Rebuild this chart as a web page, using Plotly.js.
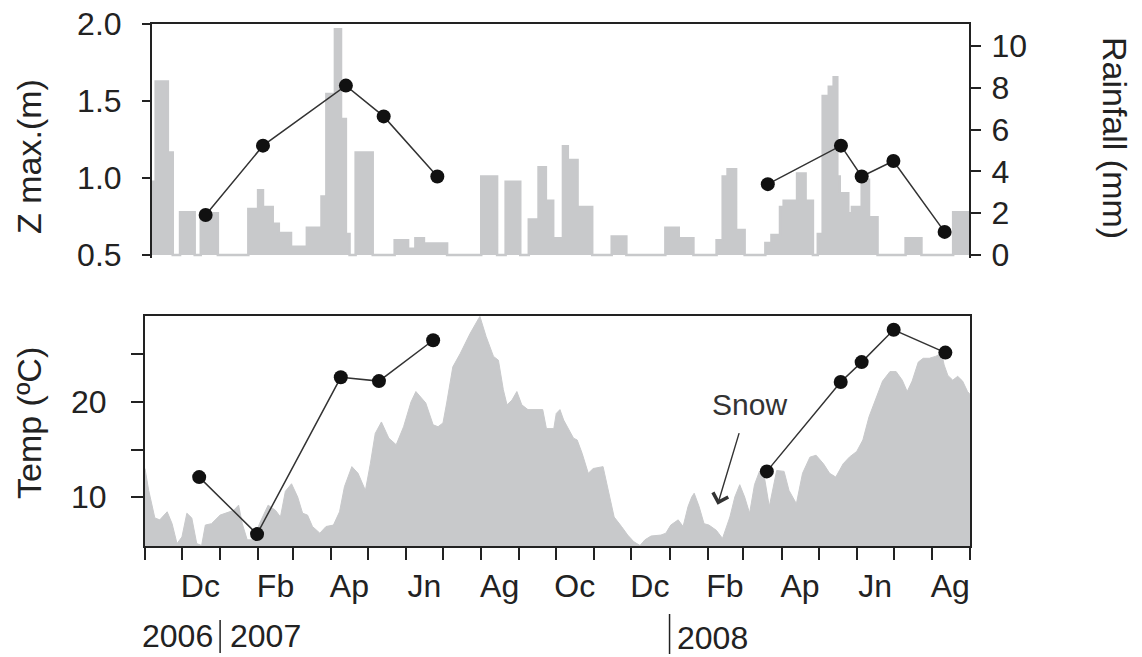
<!DOCTYPE html>
<html>
<head>
<meta charset="utf-8">
<script src="https://cdn.plot.ly/plotly-3.0.1.min.js"></script>
<style>html,body{margin:0;padding:0;background:#fff;}#chart{width:1142px;height:657px;}</style>
</head>
<body>
<div id="chart"></div>
<script>
// ---------- DATA ----------
// Rainfall (mm): step values, each holding from its date until the next date
var rainDates = ['2006-11-01','2006-11-04','2006-11-14','2006-11-18','2006-11-24','2006-12-06','2006-12-11','2006-12-25',
  '2007-01-19','2007-01-27','2007-01-31','2007-02-08','2007-02-13','2007-02-23','2007-03-08','2007-03-20','2007-03-24',
  '2007-03-31','2007-04-05','2007-04-09','2007-04-12','2007-04-17','2007-05-01','2007-05-19','2007-05-30','2007-06-05',
  '2007-06-12','2007-07-01','2007-07-29','2007-08-11','2007-08-18','2007-08-30','2007-09-06','2007-09-14','2007-09-20',
  '2007-09-26','2007-10-04','2007-10-08','2007-10-16','2007-10-28','2007-11-13','2007-11-25','2007-12-27','2008-01-07',
  '2008-01-19','2008-02-07','2008-02-12','2008-02-16','2008-02-23','2008-03-01','2008-03-18','2008-03-23','2008-03-30',
  '2008-04-02','2008-04-13','2008-04-20','2008-04-26','2008-04-30','2008-05-04','2008-05-09','2008-05-13','2008-05-16',
  '2008-05-18','2008-05-25','2008-05-28','2008-06-05','2008-06-11','2008-06-18','2008-07-11','2008-07-24','2008-08-19',
  '2008-09-01'];
var rainMm = [3.5,8.3,4.9,0,2.05,0,2.0,0,
  2.2,3.1,2.3,1.5,1.05,0.4,1.3,2.8,7.7,
  10.8,6.5,1.0,0,4.9,0,0.7,0.3,0.8,
  0.55,0,3.75,0,3.5,0,1.7,4.2,2.6,
  0.8,5.2,4.55,2.3,0,0.88,0,1.3,0.8,
  0,0.7,3.75,4.1,1.2,0,0.57,0.96,2.3,
  2.6,3.9,2.6,0,1.0,7.6,8.05,8.5,3.75,
  2.95,2.0,2.3,3.6,1.8,0,0.8,0,2.05,
  2.05];

// Z max (m) sampling campaigns
var zDates2007 = ['2006-12-15','2007-01-31','2007-04-09','2007-05-10','2007-06-23'];
var zMax2007   = [0.76, 1.21, 1.60, 1.40, 1.01];
var zDates2008 = ['2008-03-20','2008-05-19','2008-06-05','2008-07-01','2008-08-12'];
var zMax2008   = [0.96, 1.21, 1.01, 1.11, 0.65];

// Water temperature at sampling (ºC)
var tSample2007 = [12.1, 6.1, 22.6, 22.2, 26.5];
var tSample2008 = [12.7, 22.1, 24.2, 27.6, 25.2];

// Air temperature (ºC), continuous
var tempDates = ['2006-11-01','2006-11-04','2006-11-09','2006-11-13','2006-11-19','2006-11-23','2006-11-27','2006-12-01',
  '2006-12-05','2006-12-09','2006-12-13','2006-12-17','2006-12-20','2006-12-25','2007-01-01','2007-01-08','2007-01-12',
  '2007-01-16','2007-01-19','2007-01-23','2007-01-28','2007-02-02','2007-02-09','2007-02-15','2007-02-19','2007-02-23',
  '2007-02-28','2007-03-05','2007-03-09','2007-03-13','2007-03-17','2007-03-23','2007-03-28','2007-04-03','2007-04-08',
  '2007-04-12','2007-04-18','2007-04-23','2007-04-29','2007-05-03','2007-05-07','2007-05-12','2007-05-18','2007-05-24',
  '2007-05-30','2007-06-05','2007-06-09','2007-06-17','2007-06-23','2007-06-27','2007-07-01','2007-07-04','2007-07-09',
  '2007-07-15','2007-07-23','2007-07-30','2007-07-31','2007-08-05','2007-08-11','2007-08-15','2007-08-19','2007-08-22',
  '2007-08-26','2007-08-30','2007-09-03','2007-09-08','2007-09-14','2007-09-20','2007-09-23','2007-09-29','2007-10-01',
  '2007-10-04','2007-10-07','2007-10-11','2007-10-15','2007-10-18','2007-10-22','2007-10-27','2007-10-31','2007-11-08',
  '2007-11-12','2007-11-17','2007-11-23','2007-11-28','2007-12-03','2007-12-08','2007-12-12','2007-12-17','2007-12-25',
  '2007-12-29','2008-01-02','2008-01-08','2008-01-12','2008-01-16','2008-01-19','2008-01-21','2008-01-25','2008-01-29',
  '2008-02-02','2008-02-08','2008-02-13','2008-02-19','2008-02-23','2008-02-27','2008-03-02','2008-03-06','2008-03-10',
  '2008-03-14','2008-03-18','2008-03-22','2008-03-28','2008-04-03','2008-04-07','2008-04-13','2008-04-18','2008-04-24',
  '2008-04-29','2008-05-05','2008-05-10','2008-05-15','2008-05-21','2008-05-26','2008-06-01','2008-06-06','2008-06-11',
  '2008-06-17','2008-06-22','2008-06-28','2008-07-03','2008-07-08','2008-07-12','2008-07-16','2008-07-21','2008-07-25',
  '2008-07-30','2008-08-04','2008-08-09','2008-08-11','2008-08-14','2008-08-18','2008-08-22','2008-08-26','2008-08-30',
  '2008-09-01'];
var tempC = [13.0,10.7,7.8,7.6,8.45,7.2,5.1,5.8,
  8.3,7.8,5.1,4.9,7.05,7.2,8.1,8.45,8.6,
  9.15,7.2,5.5,5.5,7.2,9.15,8.6,7.9,10.6,
  11.4,10.0,8.3,8.1,6.9,6.2,6.9,7.05,8.45,
  11.1,13.2,12.5,10.7,13.5,16.7,17.9,16.2,15.5,
  17.4,20.0,21.1,19.9,17.6,17.4,17.8,19.9,23.7,
  25.1,27.2,28.8,29.0,26.9,24.8,24.4,21.3,19.7,
  20.2,21.1,19.7,19.2,19.2,19.2,17.2,17.2,18.8,
  19.2,18.1,17.1,16.2,16.0,14.6,12.5,13.0,13.2,
  10.7,7.9,6.9,6.0,5.3,4.9,5.5,5.9,6.0,
  6.2,7.05,7.6,6.9,9.0,10.0,10.4,9.0,7.2,
  7.05,6.5,5.65,7.9,10.0,11.3,10.0,8.3,11.3,
  12.7,12.1,9.0,12.8,12.7,10.7,9.3,12.5,14.2,
  14.4,13.5,12.5,12.1,13.5,14.2,14.8,16.0,18.45,
  20.6,22.2,23.2,23.2,22.3,21.1,22.2,24.2,24.6,
  24.6,24.8,25.1,23.9,22.8,22.3,22.7,22.2,21.1,
  20.8];

// Tick labels
var monthLabelDates = ['2006-12-16','2007-02-15','2007-04-16','2007-06-16','2007-08-16','2007-10-16',
  '2007-12-16','2008-02-15','2008-04-16','2008-06-16','2008-08-16'];
var monthLabels = ['Dc','Fb','Ap','Jn','Ag','Oc','Dc','Fb','Ap','Jn','Ag'];
var zTicks = [0.5, 1.0, 1.5, 2.0];
var zTickText = ['0.5','1.0','1.5','2.0'];
var rainTicks = [0, 2, 4, 6, 8, 10];
var tempTicks = [10, 15, 20, 25];
var tempTickText = ['10', '', '20', ''];
var snowDate = '2008-02-09', snowTemp = 9.2;

// ---------- STYLE ----------
var W = 1142, H = 657;
function fx(p){ return p / W; }
function fy(p){ return 1 - p / H; }
var GREY = 'rgb(200,201,203)';
var INK = '#222';
var FONT = 'Liberation Sans, Arial, Helvetica, sans-serif';
var xRange = ['2006-11-01', '2008-09-01'];

var traces = [
  {x: rainDates, y: rainMm, xaxis: 'x', yaxis: 'y', type: 'scatter', mode: 'lines',
   line: {shape: 'hv', color: GREY, width: 2.5}, fill: 'tozeroy', fillcolor: GREY, hoverinfo: 'skip'},
  {x: zDates2007.concat([null]).concat(zDates2008), y: zMax2007.concat([null]).concat(zMax2008),
   xaxis: 'x', yaxis: 'y3', type: 'scatter', mode: 'lines+markers', connectgaps: false,
   line: {color: '#333', width: 1.5}, marker: {size: 14, color: '#111'}},
  {x: tempDates, y: tempC, xaxis: 'x2', yaxis: 'y2', type: 'scatter', mode: 'lines',
   line: {color: GREY, width: 1}, fill: 'tozeroy', fillcolor: GREY, hoverinfo: 'skip'},
  {x: zDates2007.concat([null]).concat(zDates2008), y: tSample2007.concat([null]).concat(tSample2008),
   xaxis: 'x3', yaxis: 'y2', type: 'scatter', mode: 'lines+markers', connectgaps: false,
   line: {color: '#333', width: 1.5}, marker: {size: 14, color: '#111'}}
];

var tickFont = {family: FONT, size: 32, color: INK};
var titleFont = {family: FONT, size: 34, color: INK};

// top panel: small extension below zero so the grey rain baseline is visible
var rainPxPerMm = 20.9, zPxPerM = 154, extraPx = 2.5;

var layout = {
  width: W, height: H,
  margin: {l: 0, r: 0, t: 0, b: 0},
  paper_bgcolor: '#fff', plot_bgcolor: 'rgba(0,0,0,0)',
  showlegend: false,
  font: {family: FONT, color: INK},
  xaxis: {domain: [fx(152), fx(969)], anchor: 'y', range: xRange, type: 'date', side: 'top',
    showline: true, linecolor: INK, linewidth: 2, ticks: '', showticklabels: false,
    showgrid: false, zeroline: false},
  yaxis: {domain: [fy(255 + extraPx), fy(24)], anchor: 'x', side: 'right', range: [-extraPx / rainPxPerMm, 11.05],
    tickvals: rainTicks, ticks: 'outside', ticklen: 10, tickwidth: 2, tickcolor: INK,
    showline: true, linecolor: INK, linewidth: 2, showgrid: false, zeroline: false,
    tickfont: tickFont, ticklabelstandoff: 4},
  yaxis3: {overlaying: 'y', anchor: 'x', side: 'left', range: [0.5 - extraPx / zPxPerM, 2.0],
    tickvals: zTicks, ticktext: zTickText, ticks: 'outside', ticklen: 8, tickwidth: 2, tickcolor: INK,
    showline: true, linecolor: INK, linewidth: 2, showgrid: false, zeroline: false,
    tickfont: tickFont, ticklabelstandoff: 14},
  xaxis2: {domain: [fx(145), fx(970)], anchor: 'y2', range: xRange, type: 'date',
    tick0: '2006-11-01', dtick: 'M1', ticks: 'outside', ticklen: 12, tickwidth: 2, tickcolor: INK,
    showticklabels: false, showline: true, mirror: true, linecolor: INK, linewidth: 2,
    showgrid: false, zeroline: false},
  xaxis3: {overlaying: 'x2', anchor: 'y2', range: xRange, type: 'date', side: 'bottom',
    tickvals: monthLabelDates, ticktext: monthLabels, ticks: '', showline: false,
    showgrid: false, zeroline: false, tickfont: tickFont, ticklabelstandoff: 18},
  yaxis2: {domain: [fy(546), fy(316)], anchor: 'x2', range: [4.85, 29.05],
    tickvals: tempTicks, ticktext: tempTickText, ticks: 'outside', ticklen: 12, tickwidth: 2, tickcolor: INK,
    showline: true, mirror: true, linecolor: INK, linewidth: 2, showgrid: false, zeroline: false,
    tickfont: tickFont, ticklabelstandoff: 18},
  annotations: [
    {xref: 'paper', yref: 'paper', x: fx(29), y: fy(157), text: 'Z max.(m)', textangle: -90,
     showarrow: false, font: titleFont, xanchor: 'center', yanchor: 'middle'},
    {xref: 'paper', yref: 'paper', x: fx(29), y: fy(423), text: 'Temp (ºC)', textangle: -90,
     showarrow: false, font: titleFont, xanchor: 'center', yanchor: 'middle'},
    {xref: 'paper', yref: 'paper', x: fx(1115), y: fy(138), text: 'Rainfall (mm)', textangle: 90,
     showarrow: false, font: titleFont, xanchor: 'center', yanchor: 'middle'},
    {xref: 'x2', yref: 'paper', x: '2007-01-01', y: fy(636), text: '2006', xanchor: 'right', yanchor: 'middle',
     xshift: -5, showarrow: false, font: tickFont},
    {xref: 'x2', yref: 'paper', x: '2007-01-01', y: fy(636), text: '2007', xanchor: 'left', yanchor: 'middle',
     xshift: 8, showarrow: false, font: tickFont},
    {xref: 'x2', yref: 'paper', x: '2008-01-01', y: fy(638), text: '2008', xanchor: 'left', yanchor: 'middle',
     xshift: 5, showarrow: false, font: tickFont},
    {xref: 'x2', yref: 'y2', x: '2008-03-06', y: 19.7, text: 'Snow', showarrow: false,
     xanchor: 'center', yanchor: 'middle', font: {family: FONT, size: 30, color: '#333'}},
    {xref: 'x2', yref: 'y2', x: snowDate, y: snowTemp, text: '', showarrow: true,
     ax: 22, ay: -73, arrowhead: 4, arrowsize: 2.2, arrowwidth: 1.4, arrowcolor: '#333'}
  ],
  shapes: [
    {type: 'line', xref: 'x2', yref: 'paper', x0: '2007-01-01', x1: '2007-01-01', y0: fy(653), y1: fy(620),
     line: {color: INK, width: 1.5}},
    {type: 'line', xref: 'x2', yref: 'paper', x0: '2008-01-01', x1: '2008-01-01', y0: fy(654), y1: fy(614),
     line: {color: INK, width: 1.5}}
  ]
};

Plotly.newPlot('chart', traces, layout, {displayModeBar: false, staticPlot: true});
</script>
</body>
</html>
